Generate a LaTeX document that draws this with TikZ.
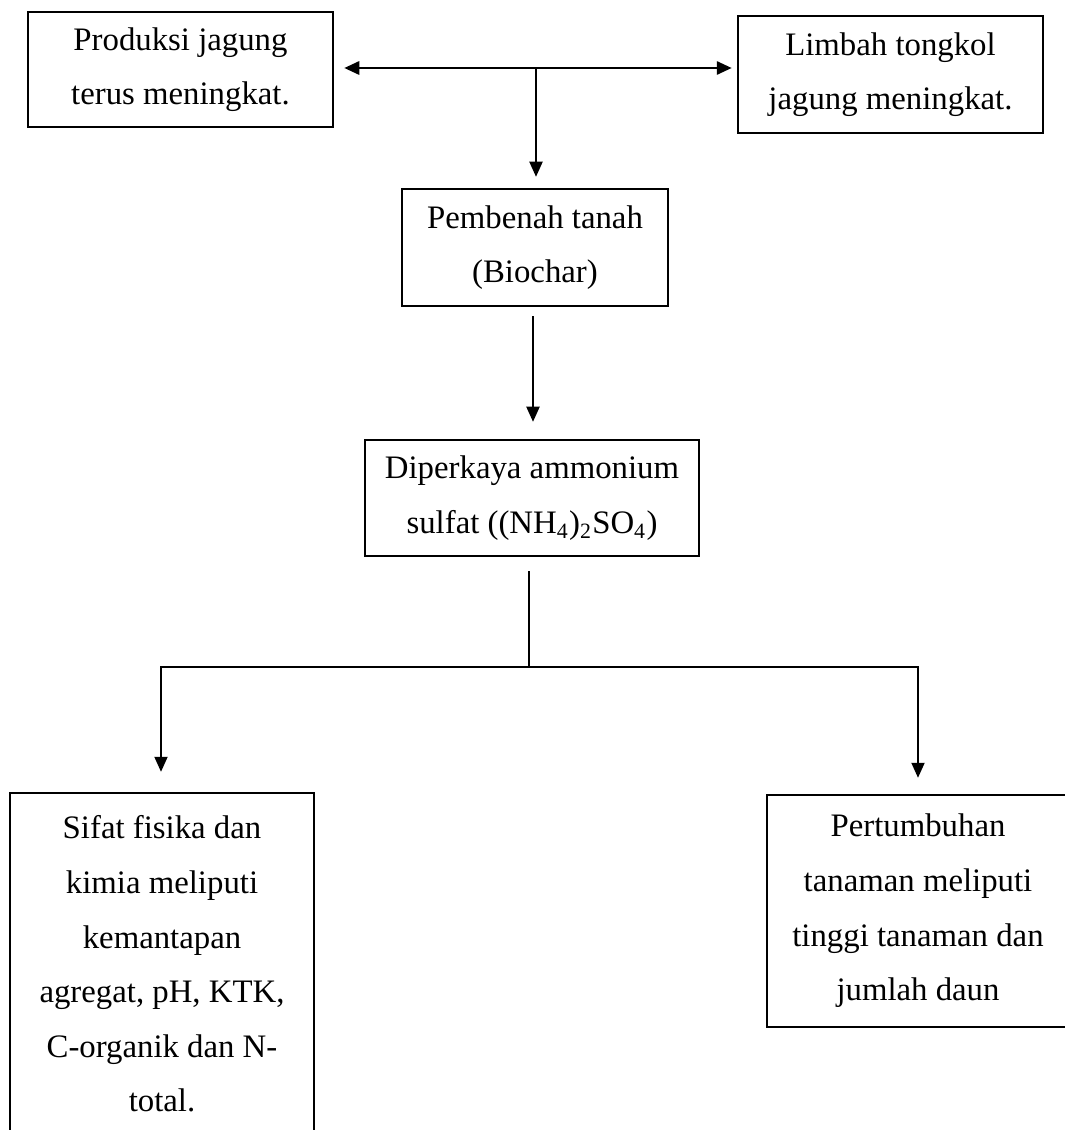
\documentclass[tikz,border=0pt]{standalone}
\usepackage{fontspec}
\setmainfont{Liberation Serif}
\usetikzlibrary{arrows.meta,calc}

\newcommand{\unitpx}{0.366pt}

\begin{document}
\begin{tikzpicture}[
    x=0.366pt, y=-0.366pt,
    box/.style={draw, line width=0.9pt, align=center, inner sep=0pt, font=\fontsize{12}{20}\selectfont},
    arr/.style={-{Triangle[length=5.5pt, width=4.8pt]}, line width=0.6pt},
    link/.style={line width=0.6pt}
  ]
    \useasboundingbox (0,0) rectangle (1064,1130);
    \node[box, minimum width=305*\unitpx, minimum height=115*\unitpx] (produksi) at (180.5,69.5) {Produksi jagung\\terus meningkat.};
    \node[box, minimum width=305*\unitpx, minimum height=117*\unitpx] (limbah) at (890.5,74.5) {Limbah tongkol\\jagung meningkat.};
    \node[box, minimum width=266*\unitpx, minimum height=117*\unitpx] (pembenah) at (535,247.5) {Pembenah tanah\\(Biochar)};
    \node[box, minimum width=334*\unitpx, minimum height=116*\unitpx] (diperkaya) at (532,498) {Diperkaya ammonium\\sulfat ((NH\textsubscript{4})\textsubscript{2}SO\textsubscript{4})};
    \node[box, minimum width=304*\unitpx, minimum height=342*\unitpx] (sifat) at (162,964) {Sifat fisika dan\\kimia meliputi\\kemantapan\\agregat, pH, KTK,\\C-organik dan N-\\total.};
    \node[box, minimum width=302*\unitpx, minimum height=232*\unitpx] (tumbuh) at (918,911) {Pertumbuhan\\tanaman meliputi\\tinggi tanaman dan\\jumlah daun};
    \coordinate (atas) at (536,68);
    \coordinate (bagi) at (529,667);
    \draw[arr, line width=1pt, {Triangle[length=5.5pt, width=4.8pt]}-{Triangle[length=5.5pt, width=4.8pt]}] ($(produksi.east |- atas)+(10,0)$) -- ($(limbah.west |- atas)+(-5,0)$);
    \draw[arr] (atas) -- ($(atas |- pembenah.north)+(0,-11)$);
    \draw[arr] ($(pembenah.south)+(-2,9)$) -- ($(pembenah.south |- diperkaya.north)+(-2,-17)$);
    \draw[link] ($(bagi |- diperkaya.south)+(0,14)$) -- (bagi);
    \draw[arr] (bagi) -| ($(sifat.north)+(-1,-20)$);
    \draw[arr] (bagi) -| ($(tumbuh.north)+(0,-16)$);
  \end{tikzpicture}
\end{document}
